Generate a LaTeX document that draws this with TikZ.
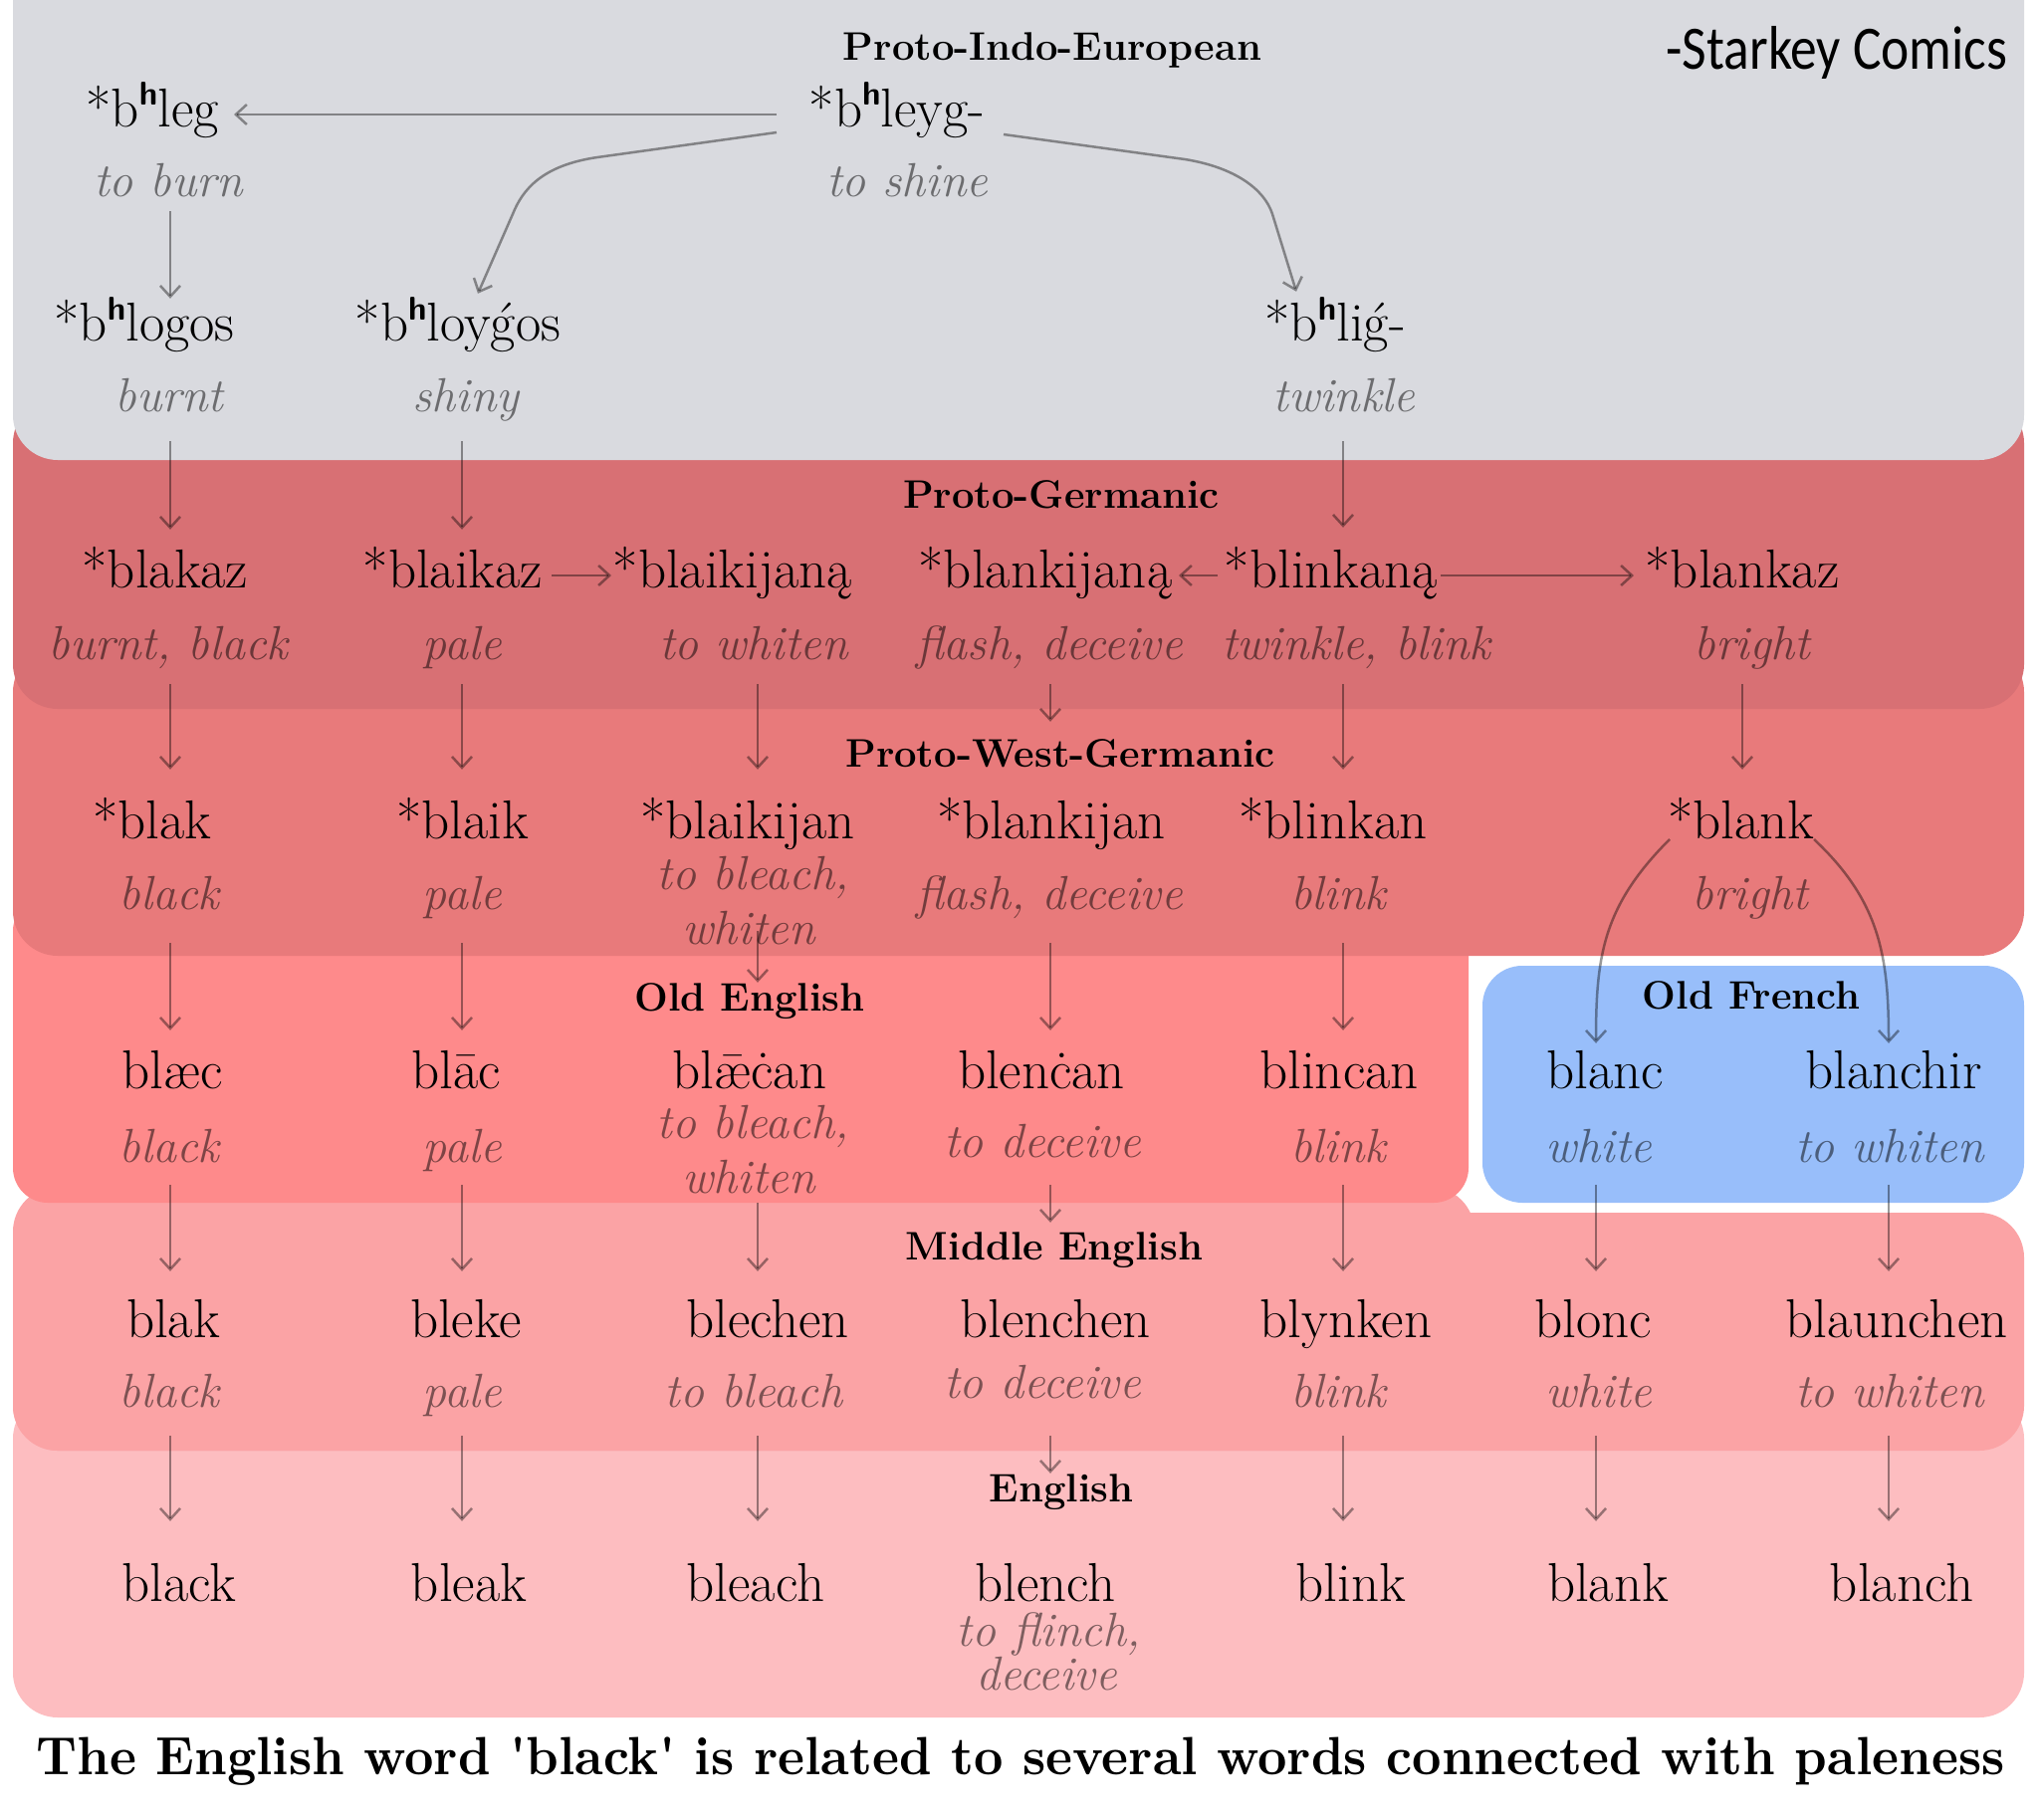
\documentclass[tikz,border=0pt]{standalone}
\usepackage{fontspec}
\usepackage{graphicx}
\usetikzlibrary{arrows.meta,calc}
\newfontfamily\starfont{Carlito}
\newfontfamily\rawfont{lmroman10-regular.otf}[BoldFont=lmroman10-bold.otf,ItalicFont=lmroman10-italic.otf,Ligatures=TeXOff]
\definecolor{cGray}{HTML}{D9DADF}
\definecolor{cPG}{HTML}{D87074}
\definecolor{cPWG}{HTML}{E87A7B}
\definecolor{cOE}{HTML}{FE8A8B}
\definecolor{cOF}{HTML}{98BEFA}
\definecolor{cME}{HTML}{FBA3A5}
\definecolor{cEN}{HTML}{FDBDC0}
\newcommand\hh{\raisebox{21pt}{\fontsize{33}{33}\selectfont\sffamily\bfseries h}}
\newcommand\gac{\ooalign{g\cr\hidewidth\kern0.05em ´\hidewidth\cr}}
\newcommand\aemac{\ooalign{æ\cr\hidewidth ¯\hidewidth\cr}}
\newcommand\varr[5]{\draw[arr, shorten <=#4pt, shorten >=#5pt] (#2.south -| #1) -- (#3.north -| #1);}
\tikzset{
  word/.style={font=\fontsize{55}{64}\selectfont, text height=35pt, text depth=11pt, inner sep=0pt, anchor=base, text=black},
  gloss/.style={font=\fontsize{48}{56}\selectfont\itshape, text height=33pt, text depth=11pt, inner sep=0pt, anchor=base, text=black, text opacity=0.5},
  ttl/.style={font=\fontsize{40}{48}\selectfont\bfseries, inner sep=0pt, anchor=base, text=black},
  arr/.style={draw=black, draw opacity=0.4, line width=2.5pt, -{Straight Barb[length=11pt,width=20pt]}},
}
\begin{document}
\begin{tikzpicture}[x=1pt,y=-1pt]
\useasboundingbox (0,0) rectangle (2048,1828);
\fill[white] (0,0) rectangle (2048,1828);
% bands, lowest first
\fill[cEN, rounded corners=45pt] (13,1400) rectangle (2033,1725);
\fill[cME, rounded corners=45pt] (13,1192) rectangle (1481,1457);
\fill[cME, rounded corners=45pt] (13,1218) rectangle (2033,1457);
\fill[cOE, rounded corners=35pt] (13,900) rectangle (1475,1208);
\fill[cPWG, rounded corners=45pt] (13,650) rectangle (2033,960);
\fill[cPG, rounded corners=45pt] (13,400) rectangle (2033,712);
\fill[cGray, rounded corners=45pt] (13,-60) rectangle (2033,462);
\fill[white, rounded corners=48pt] (1481,962) rectangle (2041,1217);
\fill[cOF, rounded corners=40pt] (1489,970) rectangle (2033,1208);
% column coordinates
\coordinate (cA) at (171,0);
\coordinate (cB) at (464,0);
\coordinate (cC) at (761,0);
\coordinate (cD) at (1055,0);
\coordinate (cE) at (1349,0);
\coordinate (cF) at (1750,0);
\coordinate (cG) at (1603,0);
\coordinate (cH) at (1897,0);
% titles
\node[ttl] (tPIE) at (1057,60) {Proto-Indo-European};
\node[ttl] (tPG) at (1066,510) {Proto-Germanic};
\node[ttl] (tPWG) at (1065,770) {Proto-West-Germanic};
\node[ttl] (tOE) at (753,1015) {Old English};
\node[ttl] (tOF) at (1759,1013) {Old French};
\node[ttl] (tME) at (1059,1265) {Middle English};
\node[ttl] (tEN) at (1066,1508) {English};
\node[anchor=base, inner sep=0pt] (credit) at (1845,70) {\resizebox{343pt}{\height}{\starfont\fontsize{62}{62}\selectfont -Starkey Comics}};
% PIE
\node[word] (bhleg) at (153,127) {*b\hh leg};
\node[word] (bhleyg) at (901,127) {*b\hh leyg-};
\node[gloss] (toburn) at (169,197) {to burn};
\node[gloss] (toshine) at (911,197) {to shine};
\node[word] (bhlogos) at (145,342) {*b\hh logos};
\node[word] (bhloygos) at (460,342) {*b\hh loy\gac os};
\node[word] (bhling) at (1341,342) {*b\hh li\gac-};
\node[gloss] (burnt) at (170,413) {burnt};
\node[gloss] (shiny) at (468,413) {shiny};
\node[gloss] (twinkle) at (1350,413) {twinkle};
% Proto-Germanic
\node[word] (blakaz) at (166,590) {*blakaz};
\node[word] (blaikaz) at (455,590) {*blaikaz};
\node[word] (blaikijana) at (736,590) {*blaikijaną};
\node[word] (blankijana) at (1050,590) {*blankijaną};
\node[word] (blinkana) at (1337,590) {*blinkaną};
\node[word] (blankaz) at (1750,590) {*blankaz};
\node[gloss] (pgA) at (169,662) {burnt, black};
\node[gloss] (pgB) at (464,662) {pale};
\node[gloss] (pgC) at (757,662) {to whiten};
\node[gloss] (pgD) at (1054,662) {flash, deceive};
\node[gloss] (pgE) at (1362,662) {twinkle, blink};
\node[gloss] (pgF) at (1760,662) {bright};
% Proto-West-Germanic
\node[word] (pwA) at (153,842) {*blak};
\node[word] (pwB) at (465,842) {*blaik};
\node[word] (pwC) at (751,842) {*blaikijan};
\node[word] (pwD) at (1056,842) {*blankijan};
\node[word] (pwE) at (1339,842) {*blinkan};
\node[word] (blank) at (1749,842) {*blank};
\node[gloss] (pwgA) at (170,913) {black};
\node[gloss] (pwgB) at (464,913) {pale};
\node[gloss] (pwgC1) at (756,893) {to bleach,};
\node[gloss] (pwgC2) at (752,948) {whiten};
\node[gloss] (pwgD) at (1054,913) {flash, deceive};
\node[gloss] (pwgE) at (1344,913) {blink};
\node[gloss] (pwgF) at (1758,913) {bright};
% Old English / Old French
\node[word] (oeA) at (173,1093) {blæc};
\node[word] (oeB) at (458,1093) {blāc};
\node[word] (oeC) at (753,1093) {bl\aemac ċan};
\node[word] (oeD) at (1046,1093) {blenċan};
\node[word] (oeE) at (1345,1093) {blincan};
\node[word] (blanc) at (1612,1093) {blanc};
\node[word] (blanchir) at (1902,1093) {blanchir};
\node[gloss] (oegA) at (170,1167) {black};
\node[gloss] (oegB) at (464,1167) {pale};
\node[gloss] (oegC1) at (756,1143) {to bleach,};
\node[gloss] (oegC2) at (752,1198) {whiten};
\node[gloss] (oegD) at (1047,1162) {to deceive};
\node[gloss] (oegE) at (1344,1167) {blink};
\node[gloss] (ofgG) at (1606,1167) {white};
\node[gloss] (ofgH) at (1898,1167) {to whiten};
% Middle English
\node[word] (meA) at (174,1343) {blak};
\node[word] (meB) at (468,1343) {bleke};
\node[word] (meC) at (771,1343) {blechen};
\node[word] (meD) at (1060,1343) {blenchen};
\node[word] (meE) at (1352,1343) {blynken};
\node[word] (meG) at (1600,1343) {blonc};
\node[word] (meH) at (1905,1343) {blaunchen};
\node[gloss] (megA) at (170,1413) {black};
\node[gloss] (megB) at (464,1413) {pale};
\node[gloss] (megC) at (757,1413) {to bleach};
\node[gloss] (megD) at (1047,1404) {to deceive};
\node[gloss] (megE) at (1344,1413) {blink};
\node[gloss] (megG) at (1606,1413) {white};
\node[gloss] (megH) at (1898,1413) {to whiten};
% English
\node[word] (enA) at (180,1608) {black};
\node[word] (enB) at (471,1608) {bleak};
\node[word] (enC) at (759,1608) {bleach};
\node[word] (enD) at (1050,1608) {blench};
\node[word] (enE) at (1357,1608) {blink};
\node[word] (enG) at (1615,1608) {blank};
\node[word] (enH) at (1910,1608) {blanch};
\node[gloss] (engD1) at (1053,1653) {to flinch,};
\node[gloss] (engD2) at (1051,1697) {deceive};
% caption
\node[anchor=base, inner sep=0pt] (caption) at (1025,1782) {\resizebox{1977pt}{\height}{\rawfont\fontsize{54}{60}\selectfont\bfseries The English word 'black' is related to several words connected with paleness}};
% PIE connectors
\draw[arr, shorten <=121pt, shorten >=82pt] (bhleyg.center) -- (bhleg.center);
\draw[arr] ($(bhleyg.center)+(-121,18)$) -- (600,158) .. controls (545,166) and (525,190) .. (515,215) -- ($(bhloygos.north)+(20,-12)$);
\draw[arr] ($(bhleyg.center)+(107,20)$) -- (1190,160) .. controls (1240,168) and (1270,190) .. (1278,215) -- ($(bhling.north)+(-39,-14)$);
\varr{cA}{toburn}{bhlogos}{4}{7}
\varr{cA}{burnt}{blakaz}{19}{23}
\varr{cB}{shiny}{blaikaz}{19}{23}
\varr{cE}{twinkle}{blinkana}{19}{25}
% PG horizontal
\draw[arr, shorten <=99pt, shorten >=122pt] (blaikaz.center) -- (blaikijana.center);
\draw[arr, shorten <=114pt, shorten >=134pt] (blinkana.center) -- (blankijana.center);
\draw[arr, shorten <=110pt, shorten >=109pt] (blinkana.center) -- (blankaz.center);
% PG -> PWG
\varr{cA}{pgA}{pwA}{14}{34}
\varr{cB}{pgB}{pwB}{14}{34}
\varr{cC}{pgC}{pwC}{14}{34}
\varr{cD}{pgD}{pwD}{14}{82}
\varr{cE}{pgE}{pwE}{14}{34}
\varr{cF}{pgF}{blank}{14}{34}
% PWG -> OE / OF
\varr{cA}{pwgA}{oeA}{23}{23}
\varr{cB}{pwgB}{oeB}{23}{23}
\varr{cC}{pwgC2}{oeC}{-24}{71}
\varr{cD}{pwgD}{oeD}{23}{23}
\varr{cE}{pwgE}{oeE}{23}{23}
\draw[arr] ($(blank.center)+(-72,13)$) .. controls (1610,910) and (1603,960) .. ($(blanc.north)+(-9,-10)$);
\draw[arr] ($(blank.center)+(73,13)$) .. controls (1888,905) and (1897,960) .. ($(blanchir.north)+(-5,-10)$);
% OE / OF -> ME
\varr{cA}{oegA}{meA}{12}{31}
\varr{cB}{oegB}{meB}{12}{31}
\varr{cC}{oegC2}{meC}{-1}{31}
\varr{cD}{oegD}{meD}{17}{80}
\varr{cE}{oegE}{meE}{12}{31}
\varr{cG}{ofgG}{meG}{12}{31}
\varr{cH}{ofgH}{meH}{12}{31}
% ME -> English
\varr{cA}{megA}{enA}{18}{45}
\varr{cB}{megB}{enB}{18}{45}
\varr{cC}{megC}{enC}{18}{45}
\varr{cD}{megD}{enD}{27}{93}
\varr{cE}{megE}{enE}{18}{45}
\varr{cG}{megG}{enG}{18}{45}
\varr{cH}{megH}{enH}{18}{45}
\end{tikzpicture}
\end{document}
